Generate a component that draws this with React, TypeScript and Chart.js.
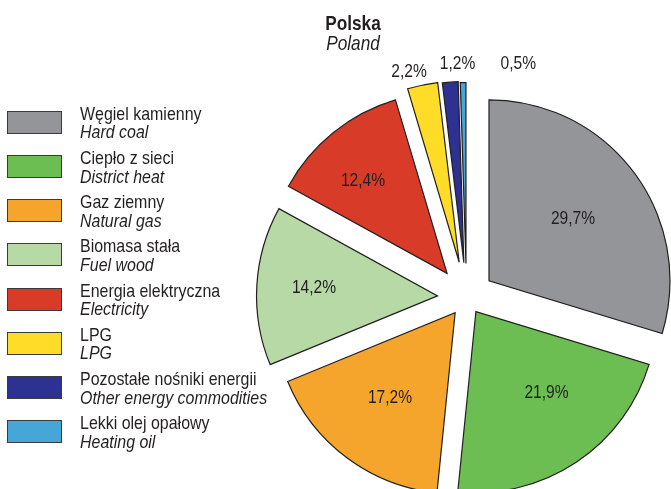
import React, { useEffect, useRef } from 'react';
import { Chart, registerables, ArcElement, PieController } from 'chart.js';

// ---- data ----
const categoriesPl = [
  'Węgiel kamienny',
  'Ciepło z sieci',
  'Gaz ziemny',
  'Biomasa stała',
  'Energia elektryczna',
  'LPG',
  'Pozostałe nośniki energii',
  'Lekki olej opałowy',
];
const categoriesEn = [
  'Hard coal',
  'District heat',
  'Natural gas',
  'Fuel wood',
  'Electricity',
  'LPG',
  'Other energy commodities',
  'Heating oil',
];
// slice sizes as drawn in the picture (%)
const shares = [29.7, 21.9, 17.2, 14.2, 12.4, 2.7, 1.4, 0.5];
// printed labels
const shareLabels = ['29,7%', '21,9%', '17,2%', '14,2%', '12,4%', '2,2%', '1,2%', '0,5%'];
const colors = ['#939598', '#6cbd52', '#f6a52c', '#b6d9a6', '#d83b27', '#fedc27', '#2d3192', '#47a6d8'];

// ---- styles ----
const explode = [28, 17, 19, 29, 31, 36, 35, 34];
const labelPlacement: [number, number][] = [
  [0.576, 0.2], [0.594, -7.4], [0.591, 0.8], [0.684, 0.5], [0.689, -3.5],
  [1.089, -3.05], [1.099, 2.5], [1.139, 15.6],
];
const FONT = '"Liberation Sans", Arial, sans-serif';
const NARROW = 0.82;
const LEGEND_NARROW = 0.84;
const TEXT = '#231f20';

class ExplodedArc extends ArcElement {
  static id = 'explodedArc';
  draw(ctx: CanvasRenderingContext2D) {
    const a: any = this;
    const o: any = this.options;
    const t = o.offset || 0;
    const mid = (a.startAngle + a.endAngle) / 2;
    const cx = a.x + Math.cos(mid) * t;
    const cy = a.y + Math.sin(mid) * t;
    ctx.save();
    ctx.beginPath();
    ctx.moveTo(cx, cy);
    ctx.arc(cx, cy, a.outerRadius, a.startAngle, a.endAngle);
    ctx.closePath();
    ctx.fillStyle = o.backgroundColor;
    ctx.fill();
    if (o.borderWidth) {
      ctx.lineWidth = o.borderWidth;
      ctx.strokeStyle = o.borderColor;
      ctx.lineJoin = 'miter';
      ctx.stroke();
    }
    ctx.restore();
  }
}

class ExplodedPieController extends PieController {
  static id = 'explodedPie';
  static defaults = { dataElementType: 'explodedArc' };
}

Chart.register(...registerables, ExplodedArc, ExplodedPieController);

const labelPlugin = {
  id: 'sliceLabels',
  afterDatasetsDraw(chart: any) {
    const meta = chart.getDatasetMeta(0);
    const ctx = chart.ctx as CanvasRenderingContext2D;
    meta.data.forEach((arc: any, i: number) => {
      const t = arc.options.offset || 0;
      const mid = (arc.startAngle + arc.endAngle) / 2;
      const ax = arc.x + Math.cos(mid) * t;
      const ay = arc.y + Math.sin(mid) * t;
      const [frac, shift] = labelPlacement[i];
      const ang = mid + (shift * Math.PI) / 180;
      const r = frac * arc.outerRadius;
      ctx.save();
      ctx.font = `19px ${FONT}`;
      ctx.fillStyle = TEXT;
      ctx.textAlign = 'center';
      ctx.textBaseline = 'middle';
      ctx.translate(ax + Math.cos(ang) * r, ay + Math.sin(ang) * r);
      ctx.scale(NARROW, 1);
      ctx.fillText(shareLabels[i], 0, 0);
      ctx.restore();
    });
  },
};

export default function App() {
  const ref = useRef<HTMLCanvasElement | null>(null);
  useEffect(() => {
    if (!ref.current) return;
    const chart = new Chart(ref.current, {
      type: 'explodedPie' as any,
      data: {
        labels: categoriesPl,
        datasets: [
          {
            data: shares,
            backgroundColor: colors,
            borderColor: TEXT,
            borderWidth: 1.2,
            offset: explode,
            radius: 181,
            clip: false,
          } as any,
        ],
      },
      options: {
        animation: false,
        responsive: false,
        devicePixelRatio: 1,
        events: [],
        layout: { padding: { left: 287, right: 25, top: 118, bottom: 12 } },
        plugins: { legend: { display: false }, tooltip: { enabled: false }, title: { display: false } },
      } as any,
      plugins: [labelPlugin],
    });
    return () => chart.destroy();
  }, []);

  return (
    <div style={{ position: 'fixed', left: 0, top: 0, width: 671, height: 489, background: '#fff', overflow: 'hidden' }}>
      <canvas ref={ref} width={671} height={489} style={{ position: 'absolute', left: 0, top: 0, display: 'block' }} />
      <div
        style={{
          position: 'absolute', left: 353, top: 12.7, transform: `translateX(-50%) scaleX(${NARROW})`, transformOrigin: 'center top',
          fontFamily: FONT, fontSize: 21, lineHeight: '20px', color: TEXT, textAlign: 'center', whiteSpace: 'nowrap',
        }}
      >
        <div style={{ fontWeight: 'bold' }}>Polska</div>
        <div style={{ fontStyle: 'italic' }}>Poland</div>
      </div>
      {categoriesPl.map((pl, i) => (
        <React.Fragment key={pl}>
          <div
            style={{
              position: 'absolute', left: 7, top: 110.7 + 44.25 * i, width: 55, height: 23,
              boxSizing: 'border-box', border: '1.5px solid #3a3a3a', background: colors[i],
            }}
          />
          <div
            style={{
              position: 'absolute', left: 80, top: 104.75 + 44.2 * i, transform: `scaleX(${LEGEND_NARROW})`, transformOrigin: 'left top',
              fontFamily: FONT, fontSize: 19, lineHeight: '18.7px', color: TEXT, whiteSpace: 'nowrap',
            }}
          >
            <div>{pl}</div>
            <div style={{ fontStyle: 'italic' }}>{categoriesEn[i]}</div>
          </div>
        </React.Fragment>
      ))}
    </div>
  );
}
